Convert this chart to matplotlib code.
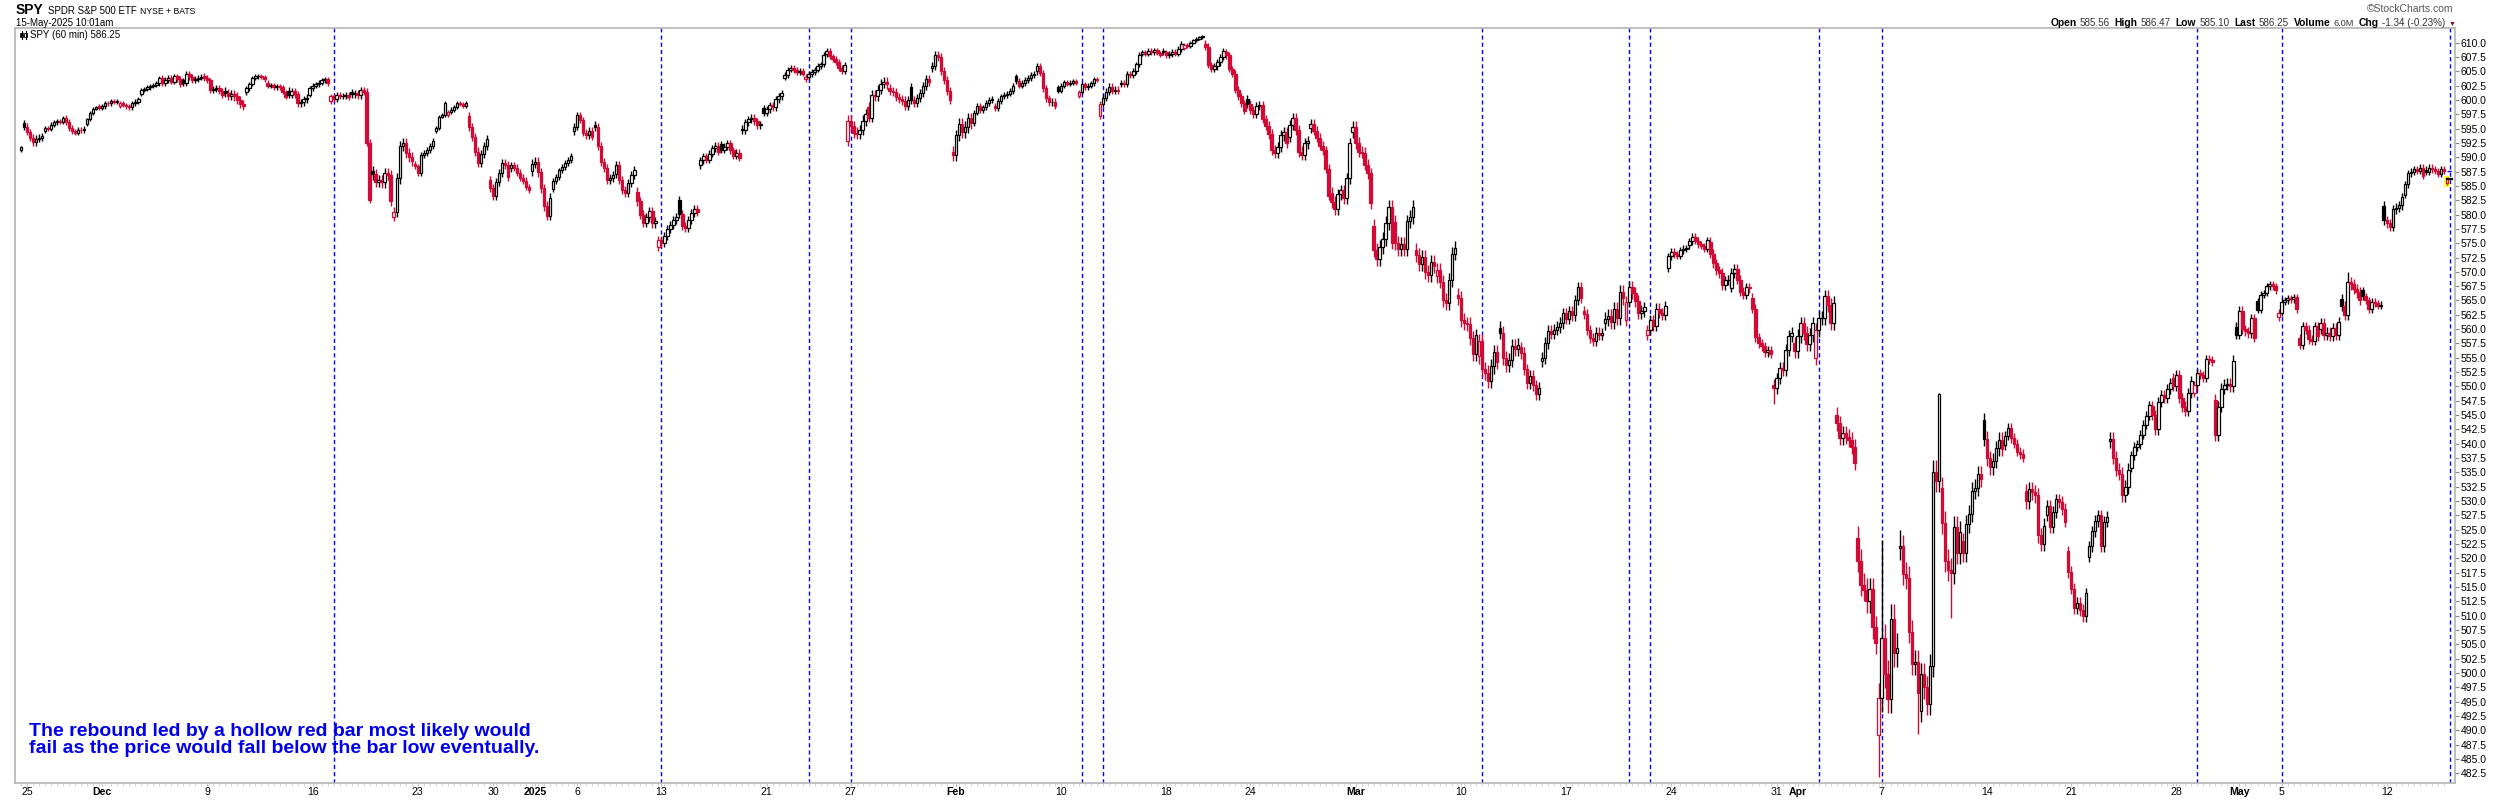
import matplotlib
matplotlib.use("Agg")
import matplotlib.pyplot as plt
from matplotlib.patches import Rectangle
from matplotlib.lines import Line2D

# ---------------- DATA (60-min bars) ----------------
# each day: (date, first-bar open, hourly closes, typical wick size)
NOV_2024 = [
    ("2024-11-22", 591.2, [591.7], 0.3),
    ("2024-11-25", 595.9, [595.3, 594.4, 593.4, 592.6, 593.2, 593.4, 593.7], 0.6),
    ("2024-11-26", 594.6, [595.1, 595.0, 595.7, 596.1, 596.3, 596.2, 596.8], 0.4),
    ("2024-11-27", 596.8, [596.2, 595.1, 594.5, 594.3, 594.8, 594.7, 595.0], 0.5),
    ("2024-11-29", 595.8, [596.6, 597.7, 598.5, 598.7], 0.3),
]
DEC_2024 = [
    ("2024-12-02", 598.9, [598.6, 598.9, 599.5, 599.4, 599.8, 599.7, 599.8], 0.4),
    ("2024-12-03", 599.0, [599.5, 599.1, 598.9, 598.7, 599.4, 599.7, 600.1], 0.4),
    ("2024-12-04", 601.0, [601.7, 601.9, 602.2, 602.4, 602.6, 602.9, 603.8], 0.4),
    ("2024-12-05", 603.9, [603.0, 603.5, 603.8, 603.2, 604.1, 603.6, 602.8], 0.5),
    ("2024-12-06", 603.4, [602.9, 604.6, 604.0, 603.4, 603.7, 603.9, 604.0], 0.5),
    ("2024-12-09", 604.2, [603.8, 603.4, 601.7, 601.9, 602.1, 601.5, 600.9], 0.5),
    ("2024-12-10", 601.5, [601.2, 600.7, 601.0, 600.6, 600.0, 599.3, 599.0], 0.7),
    ("2024-12-11", 601.3, [602.0, 602.8, 603.8, 604.1, 604.2, 604.0, 603.6], 0.4),
    ("2024-12-12", 603.0, [602.4, 602.6, 602.2, 602.4, 602.2, 601.4, 600.5], 0.4),
    ("2024-12-13", 601.6, [600.9, 601.5, 601.0, 599.4, 599.6, 600.1, 600.4], 0.6),
    ("2024-12-16", 600.9, [602.0, 602.5, 602.7, 603.0, 603.4, 603.6, 602.9], 0.4),
    ("2024-12-17", 599.8, [600.6, 600.2, 600.9, 600.6, 600.7, 600.9, 600.5], 0.5),
    ("2024-12-18", 601.3, [601.0, 601.2, 600.8, 601.7, 601.4, 592.5, 582.6], 0.6),
    ("2024-12-19", 587.6, [587.0, 585.7, 586.0, 585.6, 587.2, 586.9, 582.4], 0.9),
    ("2024-12-20", 579.6, [580.4, 586.3, 592.0, 592.4, 590.7, 590.1, 589.4], 0.9),
    ("2024-12-23", 588.9, [588.4, 587.2, 590.4, 590.7, 591.3, 591.9, 592.9], 0.5),
    ("2024-12-24", 594.6, [595.1, 597.1, 597.4, 599.5], 0.3),
    ("2024-12-26", 597.4, [597.9, 598.3, 598.8, 599.5, 599.3, 599.0, 599.5], 0.4),
    ("2024-12-27", 597.2, [595.3, 593.6, 591.0, 589.0, 590.5, 592.0, 593.2], 0.7),
    ("2024-12-30", 586.1, [584.6, 583.3, 585.6, 587.2, 589.0, 588.7, 586.5], 0.7),
    ("2024-12-31", 588.1, [588.6, 588.2, 587.3, 586.4, 585.9, 584.8, 584.3], 0.6),
]
JAN_2025 = [
    ("2025-01-02", 587.6, [588.9, 589.2, 587.4, 584.6, 581.5, 579.8, 582.9], 0.8),
    ("2025-01-03", 584.4, [585.9, 586.6, 587.7, 588.3, 589.0, 589.5, 590.2], 0.5),
    ("2025-01-06", 594.5, [595.3, 597.3, 596.5, 594.3, 593.8, 594.6, 593.6], 0.6),
    ("2025-01-07", 595.6, [595.2, 592.0, 589.2, 588.1, 586.0, 586.4, 586.9], 0.7),
    ("2025-01-08", 587.0, [588.6, 586.0, 584.2, 583.8, 585.5, 586.9, 587.8], 0.7),
    ("2025-01-10", 584.0, [582.3, 580.0, 578.6, 579.5, 580.6, 578.5, 578.8], 0.8),
    ("2025-01-13", 574.4, [575.6, 575.0, 576.3, 577.4, 578.2, 579.0, 579.6], 0.7),
    ("2025-01-14", 582.6, [580.1, 578.0, 577.6, 579.0, 580.3, 580.9, 580.4], 0.7),
    ("2025-01-15", 588.6, [589.5, 590.2, 589.6, 590.6, 591.6, 592.0, 591.0], 0.6),
    ("2025-01-16", 592.3, [591.3, 591.8, 592.4, 591.2, 590.3, 590.8, 589.9], 0.6),
    ("2025-01-17", 595.0, [594.7, 596.1, 596.6, 596.9, 596.3, 595.6, 595.8], 0.6),
    ("2025-01-21", 598.6, [597.8, 598.4, 599.1, 598.7, 600.1, 600.6, 601.2], 0.6),
    ("2025-01-22", 603.9, [604.3, 605.3, 605.6, 605.2, 604.9, 605.0, 604.6], 0.5),
    ("2025-01-23", 603.6, [604.0, 604.5, 604.9, 605.3, 605.9, 606.2, 607.9], 0.5),
    ("2025-01-24", 608.0, [608.5, 607.6, 607.2, 606.6, 605.6, 605.1, 606.1], 0.5),
    ("2025-01-27", 592.8, [596.4, 595.5, 594.3, 594.0, 594.7, 596.4, 597.6], 0.9),
    ("2025-01-28", 598.8, [596.9, 600.9, 600.6, 601.8, 602.8, 603.2, 602.7], 0.8),
    ("2025-01-29", 602.0, [601.6, 601.3, 600.5, 600.2, 599.9, 599.0, 600.0], 0.7),
    ("2025-01-30", 602.2, [600.0, 599.5, 600.3, 601.2, 602.4, 603.6, 603.2], 0.7),
    ("2025-01-31", 605.5, [605.9, 607.8, 607.5, 605.0, 603.4, 601.6, 600.0], 0.7),
]
FEB_2025 = [
    ("2025-02-03", 590.9, [590.4, 593.8, 595.8, 594.4, 595.3, 596.8, 596.0], 1.0),
    ("2025-02-04", 596.0, [597.8, 598.9, 598.3, 598.7, 599.5, 600.0, 600.1], 0.5),
    ("2025-02-05", 598.9, [598.6, 599.8, 600.6, 600.8, 601.1, 601.6, 602.4], 0.5),
    ("2025-02-06", 604.1, [603.3, 602.5, 603.0, 603.5, 603.8, 604.4, 604.5], 0.5),
    ("2025-02-07", 605.0, [605.9, 604.7, 602.0, 600.3, 599.6, 599.7, 599.0], 0.6),
    ("2025-02-10", 602.2, [601.6, 602.5, 603.1, 602.8, 603.0, 603.3, 603.0], 0.4),
    ("2025-02-11", 600.7, [601.4, 602.7, 602.2, 602.5, 602.9, 603.6, 603.5], 0.4),
    ("2025-02-12", 597.2, [599.3, 600.4, 601.4, 602.3, 601.6, 601.8, 601.6], 0.6),
    ("2025-02-13", 602.7, [603.0, 602.7, 604.6, 604.3, 605.1, 606.2, 607.9], 0.5),
    ("2025-02-14", 608.0, [608.4, 608.0, 608.6, 608.3, 608.7, 608.2, 607.9], 0.4),
    ("2025-02-18", 608.6, [608.3, 607.8, 608.0, 608.4, 608.1, 608.9, 609.7], 0.5),
    ("2025-02-19", 609.0, [609.6, 609.4, 610.0, 610.4, 610.7, 610.9, 611.1], 0.3),
    ("2025-02-20", 609.8, [609.3, 606.1, 605.4, 605.9, 606.6, 607.5, 608.5], 0.6),
    ("2025-02-21", 608.3, [607.8, 605.4, 604.6, 601.8, 600.6, 599.4, 598.1], 0.6),
    ("2025-02-24", 600.2, [599.3, 598.2, 597.5, 598.9, 599.2, 596.7, 595.4], 0.7),
    ("2025-02-25", 595.5, [594.0, 591.3, 590.7, 591.8, 593.8, 594.4, 592.5], 0.9),
    ("2025-02-26", 593.5, [595.6, 596.8, 594.8, 591.0, 590.4, 592.4, 592.8], 0.9),
    ("2025-02-27", 595.1, [595.8, 594.6, 593.4, 592.0, 591.2, 588.0, 583.3], 0.8),
    ("2025-02-28", 583.8, [582.2, 581.0, 583.5, 584.2, 582.9, 586.3, 592.4], 1.0),
]
MAR_2025 = [
    ("2025-03-03", 594.4, [595.3, 592.5, 591.0, 590.8, 588.7, 587.2, 582.0], 1.0),
    ("2025-03-04", 578.0, [573.8, 572.3, 574.4, 575.7, 578.5, 581.4, 575.1], 1.2),
    ("2025-03-05", 578.7, [575.0, 573.9, 574.8, 574.0, 578.8, 579.6, 581.3], 1.2),
    ("2025-03-06", 573.8, [573.0, 571.3, 572.6, 570.0, 569.5, 571.8, 571.0], 1.2),
    ("2025-03-07", 569.2, [570.3, 568.3, 565.1, 564.5, 568.6, 573.2, 574.2], 1.2),
    ("2025-03-10", 565.9, [565.5, 561.6, 561.0, 560.9, 558.4, 555.6, 558.9], 1.2),
    ("2025-03-11", 555.3, [557.9, 553.0, 552.4, 551.0, 553.5, 556.0, 554.3], 1.3),
    ("2025-03-12", 560.2, [559.4, 555.0, 553.8, 554.6, 557.0, 556.5, 557.2], 1.2),
    ("2025-03-13", 556.8, [555.8, 553.0, 550.6, 551.9, 550.2, 548.6, 549.8], 1.0),
    ("2025-03-14", 554.4, [555.0, 557.6, 559.7, 559.2, 559.9, 560.4, 561.1], 1.0),
    ("2025-03-17", 561.0, [562.8, 561.8, 563.1, 562.4, 565.1, 567.4, 565.4], 0.9),
    ("2025-03-18", 563.1, [562.7, 559.8, 558.5, 557.9, 559.4, 559.0, 559.3], 0.9),
    ("2025-03-19", 561.1, [561.8, 562.3, 561.3, 563.6, 562.0, 566.5, 565.4], 1.2),
    ("2025-03-20", 561.6, [564.8, 567.4, 566.3, 564.9, 562.8, 563.2, 563.8], 1.0),
    ("2025-03-21", 559.0, [559.9, 561.6, 560.6, 563.6, 562.8, 562.5, 564.0], 0.9),
    ("2025-03-24", 570.6, [572.7, 573.5, 573.1, 572.8, 573.8, 574.0, 574.1], 0.6),
    ("2025-03-25", 574.6, [575.3, 576.1, 575.4, 574.8, 574.5, 574.0, 575.5], 0.6),
    ("2025-03-26", 575.2, [573.2, 571.5, 570.3, 569.8, 567.7, 568.5, 568.6], 0.8),
    ("2025-03-27", 567.2, [569.8, 570.5, 568.6, 566.5, 566.0, 567.3, 567.1], 0.8),
    ("2025-03-28", 565.5, [563.6, 558.6, 557.5, 557.0, 556.0, 556.3, 555.7], 0.8),
    ("2025-03-31", 550.3, [549.7, 551.4, 553.2, 552.9, 556.4, 558.8, 559.4], 1.0),
]
APR_2025 = [
    ("2025-04-01", 557.5, [556.2, 558.8, 561.0, 559.3, 557.4, 559.0, 561.0], 1.2),
    ("2025-04-02", 555.0, [559.9, 561.9, 562.0, 565.7, 564.2, 561.0, 564.5], 1.2),
    ("2025-04-03", 545.1, [543.6, 541.0, 541.8, 541.2, 540.7, 539.5, 536.7], 1.3),
    ("2025-04-04", 523.6, [519.6, 515.4, 514.5, 512.5, 514.6, 508.0, 505.3], 2.0),
    ("2025-04-07", 489.2, [495.7, 506.1, 499.8, 495.5, 509.5, 503.5, 504.4], 2.5),
    ("2025-04-08", 521.8, [522.1, 517.3, 516.6, 507.2, 501.6, 502.0, 496.5], 2.0),
    ("2025-04-09", 493.4, [499.8, 497.5, 494.6, 501.3, 535.1, 533.5, 548.6], 2.0),
    ("2025-04-10", 532.2, [526.2, 519.6, 518.0, 517.5, 525.4, 521.0, 524.6], 2.0),
    ("2025-04-11", 523.0, [520.9, 526.0, 527.8, 531.8, 532.3, 534.7, 533.9], 1.5),
    ("2025-04-14", 544.1, [540.9, 537.5, 535.9, 537.0, 539.2, 540.7, 539.1], 1.3),
    ("2025-04-15", 539.7, [541.4, 542.8, 541.0, 540.0, 538.6, 538.2, 537.6], 0.8),
    ("2025-04-16", 531.7, [530.0, 532.1, 531.5, 531.0, 524.0, 522.5, 525.7], 1.3),
    ("2025-04-17", 527.6, [529.2, 525.4, 528.1, 530.3, 529.8, 528.6, 526.4], 1.0),
    ("2025-04-21", 521.2, [517.6, 514.7, 511.3, 512.2, 511.0, 509.9, 513.9], 1.0),
    ("2025-04-22", 520.3, [522.1, 524.7, 526.5, 527.5, 522.1, 526.4, 527.3], 1.0),
    ("2025-04-23", 540.5, [540.8, 537.6, 535.5, 534.8, 531.0, 532.5, 535.4], 1.2),
    ("2025-04-24", 535.8, [538.0, 539.5, 539.9, 541.6, 543.3, 544.9, 546.7], 0.8),
    ("2025-04-25", 546.6, [545.0, 542.5, 547.3, 548.5, 548.0, 549.5, 550.6], 0.9),
    ("2025-04-28", 551.4, [550.1, 552.0, 548.0, 546.5, 545.8, 548.8, 550.9], 0.9),
    ("2025-04-29", 548.9, [550.3, 552.3, 552.0, 551.5, 554.8, 554.6, 554.3], 0.7),
    ("2025-04-30", 547.6, [541.5, 546.5, 549.6, 550.3, 550.5, 550.1, 554.5], 1.0),
]
MAY_2025 = [
    ("2025-05-01", 560.4, [559.0, 563.2, 560.0, 559.6, 559.3, 561.9, 558.5], 0.8),
    ("2025-05-02", 564.9, [563.4, 566.0, 566.3, 567.5, 567.8, 567.5, 566.8], 0.6),
    ("2025-05-05", 562.1, [562.9, 564.8, 565.0, 565.4, 565.2, 565.6, 563.5], 0.6),
    ("2025-05-06", 558.4, [557.3, 560.5, 559.9, 558.2, 558.0, 560.5, 558.8], 0.8),
    ("2025-05-07", 560.0, [561.1, 559.0, 559.4, 558.8, 560.2, 559.0, 561.2], 0.9),
    ("2025-05-08", 565.3, [564.0, 562.5, 568.2, 567.8, 567.0, 566.4, 565.1], 0.9),
    ("2025-05-09", 566.8, [565.7, 565.0, 563.5, 564.8, 564.5, 564.1, 564.3], 0.6),
    ("2025-05-12", 581.5, [579.0, 578.5, 577.9, 580.9, 581.2, 581.6, 583.0], 0.8),
    ("2025-05-13", 583.4, [585.3, 587.2, 587.5, 587.9, 587.6, 588.2, 586.8], 0.6),
    ("2025-05-14", 587.8, [587.5, 588.2, 587.9, 587.6, 587.1, 587.9, 587.6], 0.6),
    ("2025-05-15", 585.56, [586.25], 0.3),
]
# individual bar extremes that stand out: (date, bar number, high, low)
EXTREMES = [
    ("2024-12-20", 0, None, 578.9),
    ("2025-01-13", 0, None, 573.6),
    ("2025-02-19", 6, 611.4, None),
    ("2025-03-31", 0, None, 546.9),
    ("2025-04-07", 0, None, 481.8),
    ("2025-04-07", 1, 523.2, None),
    ("2025-04-08", 0, 525.0, None),
    ("2025-04-08", 6, None, 489.3),
    ("2025-04-09", 0, None, 491.5),
    ("2025-04-09", 6, 548.9, None),
    ("2025-04-10", 3, None, 509.6),
    ("2025-05-08", 2, 570.0, None),
    ("2025-05-15", 0, 586.47, 585.10),
]
LINE_DATES = ["2024-12-17", "2025-01-13", "2025-01-23", "2025-01-27", "2025-02-11",
              "2025-02-12", "2025-03-11", "2025-03-20", "2025-03-21", "2025-04-02",
              "2025-04-07", "2025-04-29", "2025-05-05", "2025-05-15"]
TICK_DATES = ["2024-11-25", "2024-12-02", "2024-12-09", "2024-12-16", "2024-12-23",
              "2024-12-30", "2025-01-02", "2025-01-06", "2025-01-13", "2025-01-21",
              "2025-01-27", "2025-02-03", "2025-02-10", "2025-02-18", "2025-02-24",
              "2025-03-03", "2025-03-10", "2025-03-17", "2025-03-24", "2025-03-31",
              "2025-04-01", "2025-04-07", "2025-04-14", "2025-04-21", "2025-04-28",
              "2025-05-01", "2025-05-05", "2025-05-12"]
TICK_TEXT = ["25", "Dec", "9", "16", "23", "30", "2025", "6", "13", "21", "27", "Feb",
             "10", "18", "24", "Mar", "10", "17", "24", "31", "Apr", "7", "14", "21",
             "28", "May", "5", "12"]
BOLD_TICKS = ["Dec", "2025", "Feb", "Mar", "Apr", "May"]
PREV_CLOSE = 587.59
ANNOTATION = ("The rebound led by a hollow red bar most likely would\n"
              "fail as the price would fall below the bar low eventually.")

# ---------------- build bars ----------------
RED = "#d20a36"
BLK = "#000000"
W, H = 2500, 800
FAM = ["Liberation Sans", "DejaVu Sans"]

opens, closes, highs, lows = [], [], [], []
first_idx = {}
ext = {(d, b): (hh, ll) for d, b, hh, ll in EXTREMES}
for month in (NOV_2024, DEC_2024, JAN_2025, FEB_2025, MAR_2025, APR_2025, MAY_2025):
    for date, op, cls, wk in month:
        first_idx[date] = len(closes) - 1  # Nov 22 bar sits at -1
        prev = op
        for b, cl in enumerate(cls):
            o = op if b == 0 else prev
            hh = max(o, cl) + wk
            ll = min(o, cl) - wk
            if (date, b) in ext:
                eh, el = ext[(date, b)]
                if eh is not None:
                    hh = eh
                if el is not None:
                    ll = el
            opens.append(o); closes.append(cl); highs.append(hh); lows.append(ll)
            prev = cl

n = len(closes)
xs = [i - 1 for i in range(n)]

edge, face, bots, hts = [], [], [], []
for i in range(n):
    o, c = opens[i], closes[i]
    pc = closes[i - 1] if i > 0 else o
    col = BLK if c >= pc else RED
    edge.append(col)
    face.append("white" if c > o else col)
    bots.append(min(o, c))
    hts.append(max(abs(c - o), 0.08))

# ---------------- figure ----------------
fig = plt.figure(figsize=(W / 100, H / 100), dpi=100)
fig.patch.set_facecolor("white")
ax = fig.add_axes([15 / W, 1 - 783 / H, (2455 - 15) / W, (783 - 28.3) / H])
ax.set_xlim(-3.0, 808.7)
ax.set_ylim(480.8, 612.5)

for d in LINE_DATES:
    ax.axvline(first_idx[d] + 1, color="#0000ff", lw=1.0, ls=(0, (3, 2.2)), zorder=1)

ax.vlines(xs, lows, highs, colors=edge, linewidth=1.0, zorder=2)
ax.bar(xs, hts, bottom=bots, width=0.84, color=face, edgecolor=edge,
       linewidth=0.9, zorder=3)

# last bar highlight and last/prev-close markers
last_x = xs[-1]
ax.add_patch(Rectangle((last_x - 1.0, 584.8), 2.0, 2.0, facecolor="#ffff33",
                       edgecolor="none", zorder=1.5))
ax.plot([last_x, 808.7], [PREV_CLOSE, PREV_CLOSE], color="#0000ff", lw=1.0,
        ls=(0, (3, 2.2)), zorder=1, clip_on=False)
ax.plot([last_x + 0.2, last_x + 1.6], [closes[-1], closes[-1]], color=BLK, lw=1.6, zorder=4)

# axes styling
for s in ax.spines.values():
    s.set_color("#b4b4b4")
    s.set_linewidth(1.2)
ax.yaxis.tick_right()
yt = [482.5 + 2.5 * k for k in range(52)]
ax.set_yticks(yt)
ax.set_yticklabels([f"{v:.1f}" for v in yt], fontsize=7.5, family=FAM)
ax.tick_params(axis="y", which="major", length=3, width=0.8, color="#888888", pad=1)

ax.set_xticks([first_idx[d] + 1 for d in TICK_DATES])
ax.set_xticklabels(TICK_TEXT, fontsize=7.6, family=FAM)
for lab in ax.get_xticklabels():
    if lab.get_text() in BOLD_TICKS:
        lab.set_fontweight("bold")
ax.tick_params(axis="x", which="major", length=2, width=0.6, color="#b4b4b4", pad=1.2)
ax.set_xticks(xs[::2], minor=True)
ax.tick_params(axis="x", which="minor", length=2, width=0.5, color="#c8c8c8")

# annotation
fig.text(29 / W, 1 - 740 / H, ANNOTATION, color="#0000ee", fontsize=14,
         fontweight="bold", family=FAM, ha="left", va="center", linespacing=1.05)

# header texts
fig.canvas.draw()
rend = fig.canvas.get_renderer()


def row(x0, y, parts):
    x = x0
    for txt, wt, sz, col, gap in parts:
        t = fig.text(x / W, 1 - y / H, txt, fontsize=sz, fontweight=wt, color=col,
                     family=FAM, ha="left", va="baseline")
        bb = t.get_window_extent(renderer=rend)
        x = bb.x1 + gap


row(16, 13.5, [("SPY", "bold", 10.0, BLK, 4), ("SPDR S&P 500 ETF", "normal", 7.0, BLK, 4),
               ("NYSE + BATS", "normal", 6.2, BLK, 0)])
fig.text(16 / W, 1 - 25.5 / H, "15-May-2025 10:01am", fontsize=7.0, family=FAM,
         ha="left", va="baseline")
fig.text(30 / W, 1 - 38.5 / H, "SPY (60 min) 586.25", fontsize=7.0, family=FAM,
         ha="left", va="baseline")
# small candle icon of the legend
fig.add_artist(Line2D([21.5 / W, 21.5 / W], [1 - 38.5 / H, 1 - 31 / H], color=BLK, lw=0.8))
fig.add_artist(Rectangle((20.3 / W, 1 - 37 / H), 2.4 / W, 4 / H, facecolor=BLK,
                         edgecolor=BLK, lw=0.5))
fig.add_artist(Line2D([25.5 / W, 25.5 / W], [1 - 38.5 / H, 1 - 31 / H], color=BLK, lw=0.8))
fig.add_artist(Rectangle((24.3 / W, 1 - 36.5 / H), 2.4 / W, 3.5 / H, facecolor="white",
                         edgecolor=BLK, lw=0.6))

fig.text(2453 / W, 1 - 12.5 / H, "\u00a9StockCharts.com", fontsize=7.5, color="#555555",
         family=FAM, ha="right", va="baseline")

pieces = [("Open", "bold", BLK, 7.4), ("585.56", "normal", "#333333", 7.1),
          ("High", "bold", BLK, 7.4), ("586.47", "normal", "#333333", 7.1),
          ("Low", "bold", BLK, 7.4), ("585.10", "normal", "#333333", 7.1),
          ("Last", "bold", BLK, 7.4), ("586.25", "normal", "#333333", 7.1),
          ("Volume", "bold", BLK, 7.4), ("6.0M", "normal", "#333333", 6.6),
          ("Chg", "bold", BLK, 7.4), ("-1.34 (-0.23%)", "normal", "#333333", 7.1),
          ("\u25bc", "normal", "#8b0a2a", 5.0)]
xpos = 2455
for txt, wt, col, sz in reversed(pieces):
    t = fig.text(xpos / W, 1 - 25.5 / H, txt, fontsize=sz, fontweight=wt, color=col,
                 family=FAM, ha="right", va="baseline")
    bb = t.get_window_extent(renderer=rend)
    gap = 3 if wt == "normal" else 5
    xpos = bb.x0 - gap

fig.savefig("out.png", dpi=100, facecolor="white")
